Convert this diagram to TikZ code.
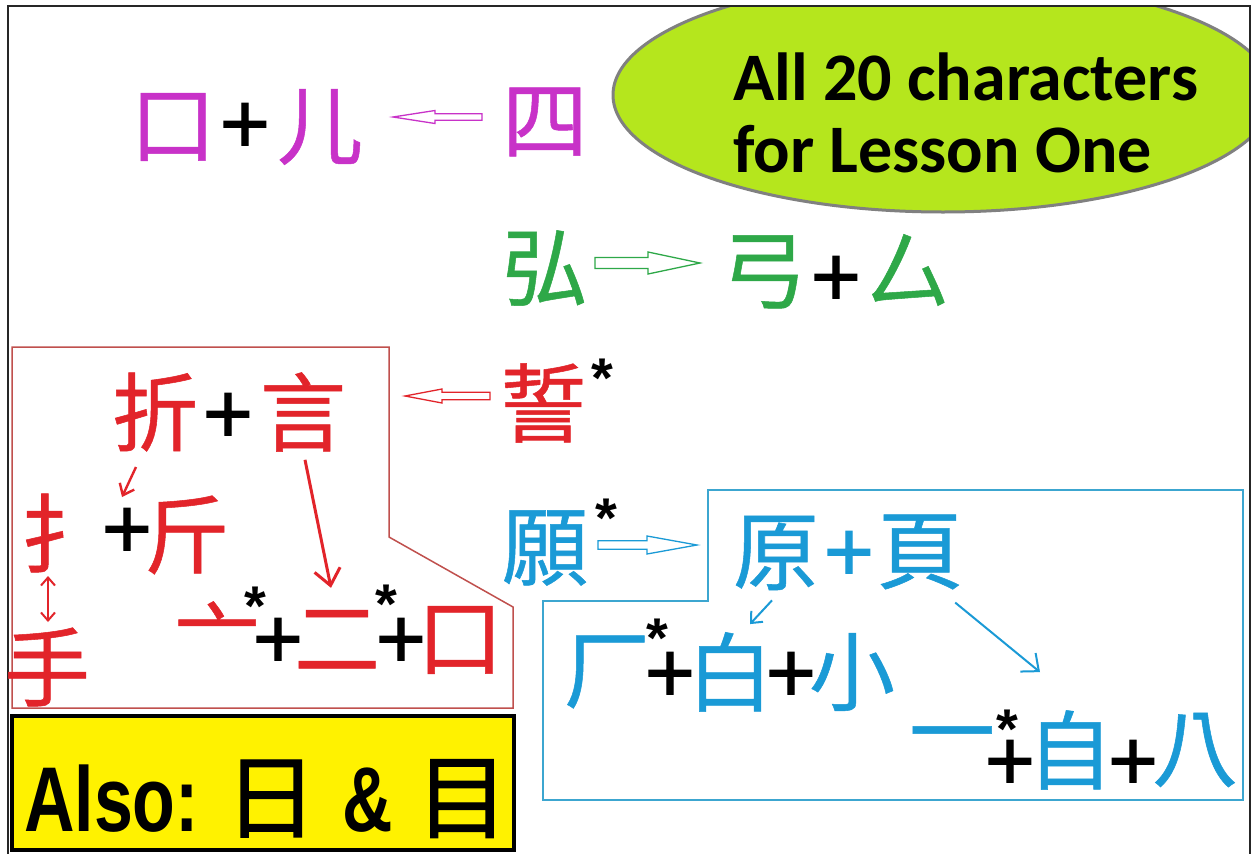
\documentclass[tikz,border=0pt]{standalone}
\usepackage{fontspec}
\setmainfont{Liberation Sans}
\newfontfamily\cjk[FakeBold=0.6]{Noto Sans CJK TC}
\newfontfamily\cjkb[FakeBold=1.3]{Noto Sans CJK TC}
\newfontfamily\plusf[FakeBold=1.4]{Liberation Sans}
\newfontfamily\calf{Carlito}
\newfontfamily\alsof[FakeStretch=0.76]{Liberation Sans}
\usetikzlibrary{calc,arrows.meta}
\definecolor{cmag}{RGB}{200,50,200}
\definecolor{cgrn}{RGB}{46,168,72}
\definecolor{cred}{RGB}{226,36,42}
\definecolor{cblu}{RGB}{26,154,214}
\definecolor{cboxr}{RGB}{192,80,77}
\definecolor{cboxb}{RGB}{60,166,208}
\definecolor{clime}{RGB}{181,230,29}
\definecolor{cyel}{RGB}{255,242,0}
\newcommand\blockarr[6]{% color, tail, tip, head length, head half, shaft half
  \coordinate (ba-h) at ($(#3)!#4pt!(#2)$);
  \draw[#1, line width=1.3pt, fill=white, line join=miter]
    ($(#2)!#6pt!90:(#3)$) -- ($(ba-h)!#6pt!90:(#3)$) -- ($(ba-h)!#5pt!90:(#3)$) -- (#3)
    -- ($(ba-h)!#5pt!-90:(#3)$) -- ($(ba-h)!#6pt!-90:(#3)$) -- ($(#2)!#6pt!-90:(#3)$) -- cycle;}
\tikzset{
  ch/.style={font=\cjk\fontsize{86}{86}\selectfont, inner sep=0pt, anchor=center},
  plus/.style={font=\plusf\fontsize{86}{86}\selectfont, inner sep=0pt, text=black},
  star/.style={font=\fontsize{56}{56}\selectfont\bfseries, inner sep=0pt, text=black},
  thinred/.style={cred, line width=3pt, -{Straight Barb[length=16pt,width=26pt]}},
  smallred/.style={cred, line width=2.4pt, -{Straight Barb[length=10pt,width=16pt]}},
  thinblue/.style={cblu, line width=2pt, -{Straight Barb[length=14pt,width=24pt]}},
}
\begin{document}
\begin{tikzpicture}[x=1pt,y=-1pt]
\useasboundingbox (0,0) rectangle (1253,854);
\fill[white] (0,0) rectangle (1253,854);
% ellipse
\begin{scope}
\clip (8,6) rectangle (1250,854);
\draw[fill=clime, draw=black!50, line width=3pt] (943,95) ellipse [x radius=330, y radius=117];
\end{scope}
\node[font=\calf\bfseries\fontsize{68}{68}\selectfont, anchor=base west, inner sep=0pt] (t1) at (733,100) {All 20 characters};
\node[font=\calf\bfseries\fontsize{68}{68}\selectfont, anchor=base west, inner sep=0pt] (t2) at (733,172) {for Lesson One};
% frame
\draw[line width=2.2pt, black!85] (8,854) -- (8,6) -- (1250,6) -- (1250,854);
% boxes
\draw[cboxr, line width=1.5pt] (12,347) -- (389,347) -- (389,537) -- (513,607) -- (513,708) -- (12,708) -- cycle;
\draw[cboxb, line width=1.8pt] (708,490) -- (1243,490) -- (1243,800) -- (543,800) -- (543,601) -- (708,601) -- cycle;
\draw[fill=cyel, draw=black, line width=4pt] (12,716) rectangle (514,850);
\node[font=\alsof\bfseries\fontsize{92}{92}\selectfont, inner sep=0pt, anchor=base west] (also) at (24,831) {Also: {\cjkb\mdseries 日}\hspace{6pt} \&\hspace{4pt} {\cjkb\mdseries 目}};
% row 1 magenta
\node[ch, text=cmag] (kou1) at (173,127) {口};
\node[plus] (p1) at (245,128) {+};
\node[ch, text=cmag] (er) at (320,127) {儿};
\node[ch, text=cmag] (si) at (545,122) {四};
\coordinate (m1) at (482,117); \coordinate (m2) at (393,117);
\blockarr{cmag}{m1}{m2}{42}{6.5}{3.3}
% row 2 green
\node[ch, text=cgrn] (hong) at (545,268) {弘};
\node[ch, text=cgrn] (gong) at (764,272) {弓};
\node[plus] (p2) at (836,281) {+};
\node[ch, text=cgrn] (si2) at (908,270) {厶};
\coordinate (g1) at (595,263); \coordinate (g2) at (700,263);
\blockarr{cgrn}{g1}{g2}{52}{11}{5.5}
% row 3 red
\node[ch, text=cred] (shi) at (543,403) {誓};
\node[star] (s1) at (602,378) {*};
\coordinate (r1) at (490,396); \coordinate (r2) at (405,396);
\blockarr{cred}{r1}{r2}{37}{7}{3.8}
\node[ch, text=cred] (zhe) at (155,412) {折};
\node[plus] (p3) at (228,418) {+};
\node[ch, text=cred] (yan) at (303,412) {言};
\node[ch, text=cred] (sh1) at (63,533) {扌};
\node[plus] (p4) at (127,533) {+};
\node[ch, text=cred] (jin) at (187,535) {斤};
\node[ch, text=cred] (sh2) at (47,667) {手};
\node[ch, text=cred] (tou) at (217,637) {亠};
\node[star] (s2) at (255,606) {*};
\node[plus] (p5) at (278,643) {+};
\node[ch, text=cred] (er2) at (337,640) {二};
\node[star] (s3) at (386,604) {*};
\node[plus] (p6) at (401,643) {+};
\node[ch, text=cred] (kou2) at (460,640) {口};
\coordinate (za) at (136,467); \coordinate (zb) at (122,497);
\draw[smallred] (za) -- (zb);
\coordinate (ua) at (48,576); \coordinate (ub) at (48,622);
\draw[cred, line width=2pt, {Straight Barb[length=8pt,width=14pt]}-{Straight Barb[length=8pt,width=14pt]}] (ua) -- (ub);
\draw[thinred] ($(yan.south)+(2,8)$) -- ($(er2.north)+(-6,-22)$);
% row 4 blue
\node[ch, text=cblu] (yuan) at (545,548) {願};
\node[star] (s4) at (606,518) {*};
\coordinate (b1) at (598,545); \coordinate (b2) at (697,545);
\blockarr{cblu}{b1}{b2}{50}{9}{4.2}
\node[ch, text=cblu] (yuan2) at (776,553) {原};
\node[plus, text=cblu] (p7) at (849,556) {+};
\node[ch, text=cblu] (ye) at (920,552) {頁};
\node[ch, text=cblu] (chang) at (607,672) {厂};
\node[star] (s5) at (657,638) {*};
\node[plus] (p8) at (670,677) {+};
\node[ch, text=cblu] (bai) at (730,672) {白};
\node[plus] (p9) at (791,677) {+};
\node[ch, text=cblu] (xiao) at (852,672) {小};
\node[ch, text=cblu] (yi) at (952,745) {一};
\node[star] (s6) at (1007,729) {*};
\node[plus] (p10) at (1010,765) {+};
\node[ch, text=cblu] (zi) at (1070,750) {自};
\node[plus] (p11) at (1133,765) {+};
\node[ch, text=cblu] (ba) at (1195,750) {八};
\draw[thinblue, -{Straight Barb[length=9pt,width=16pt]}] ($(yuan2.south)+(-4,10)$) -- ($(bai.north)+(20,-8)$);
\draw[thinblue] ($(ye.south east)+(-8,13)$) -- ($(zi.north)+(-30,-38)$);
\end{tikzpicture}
\end{document}
